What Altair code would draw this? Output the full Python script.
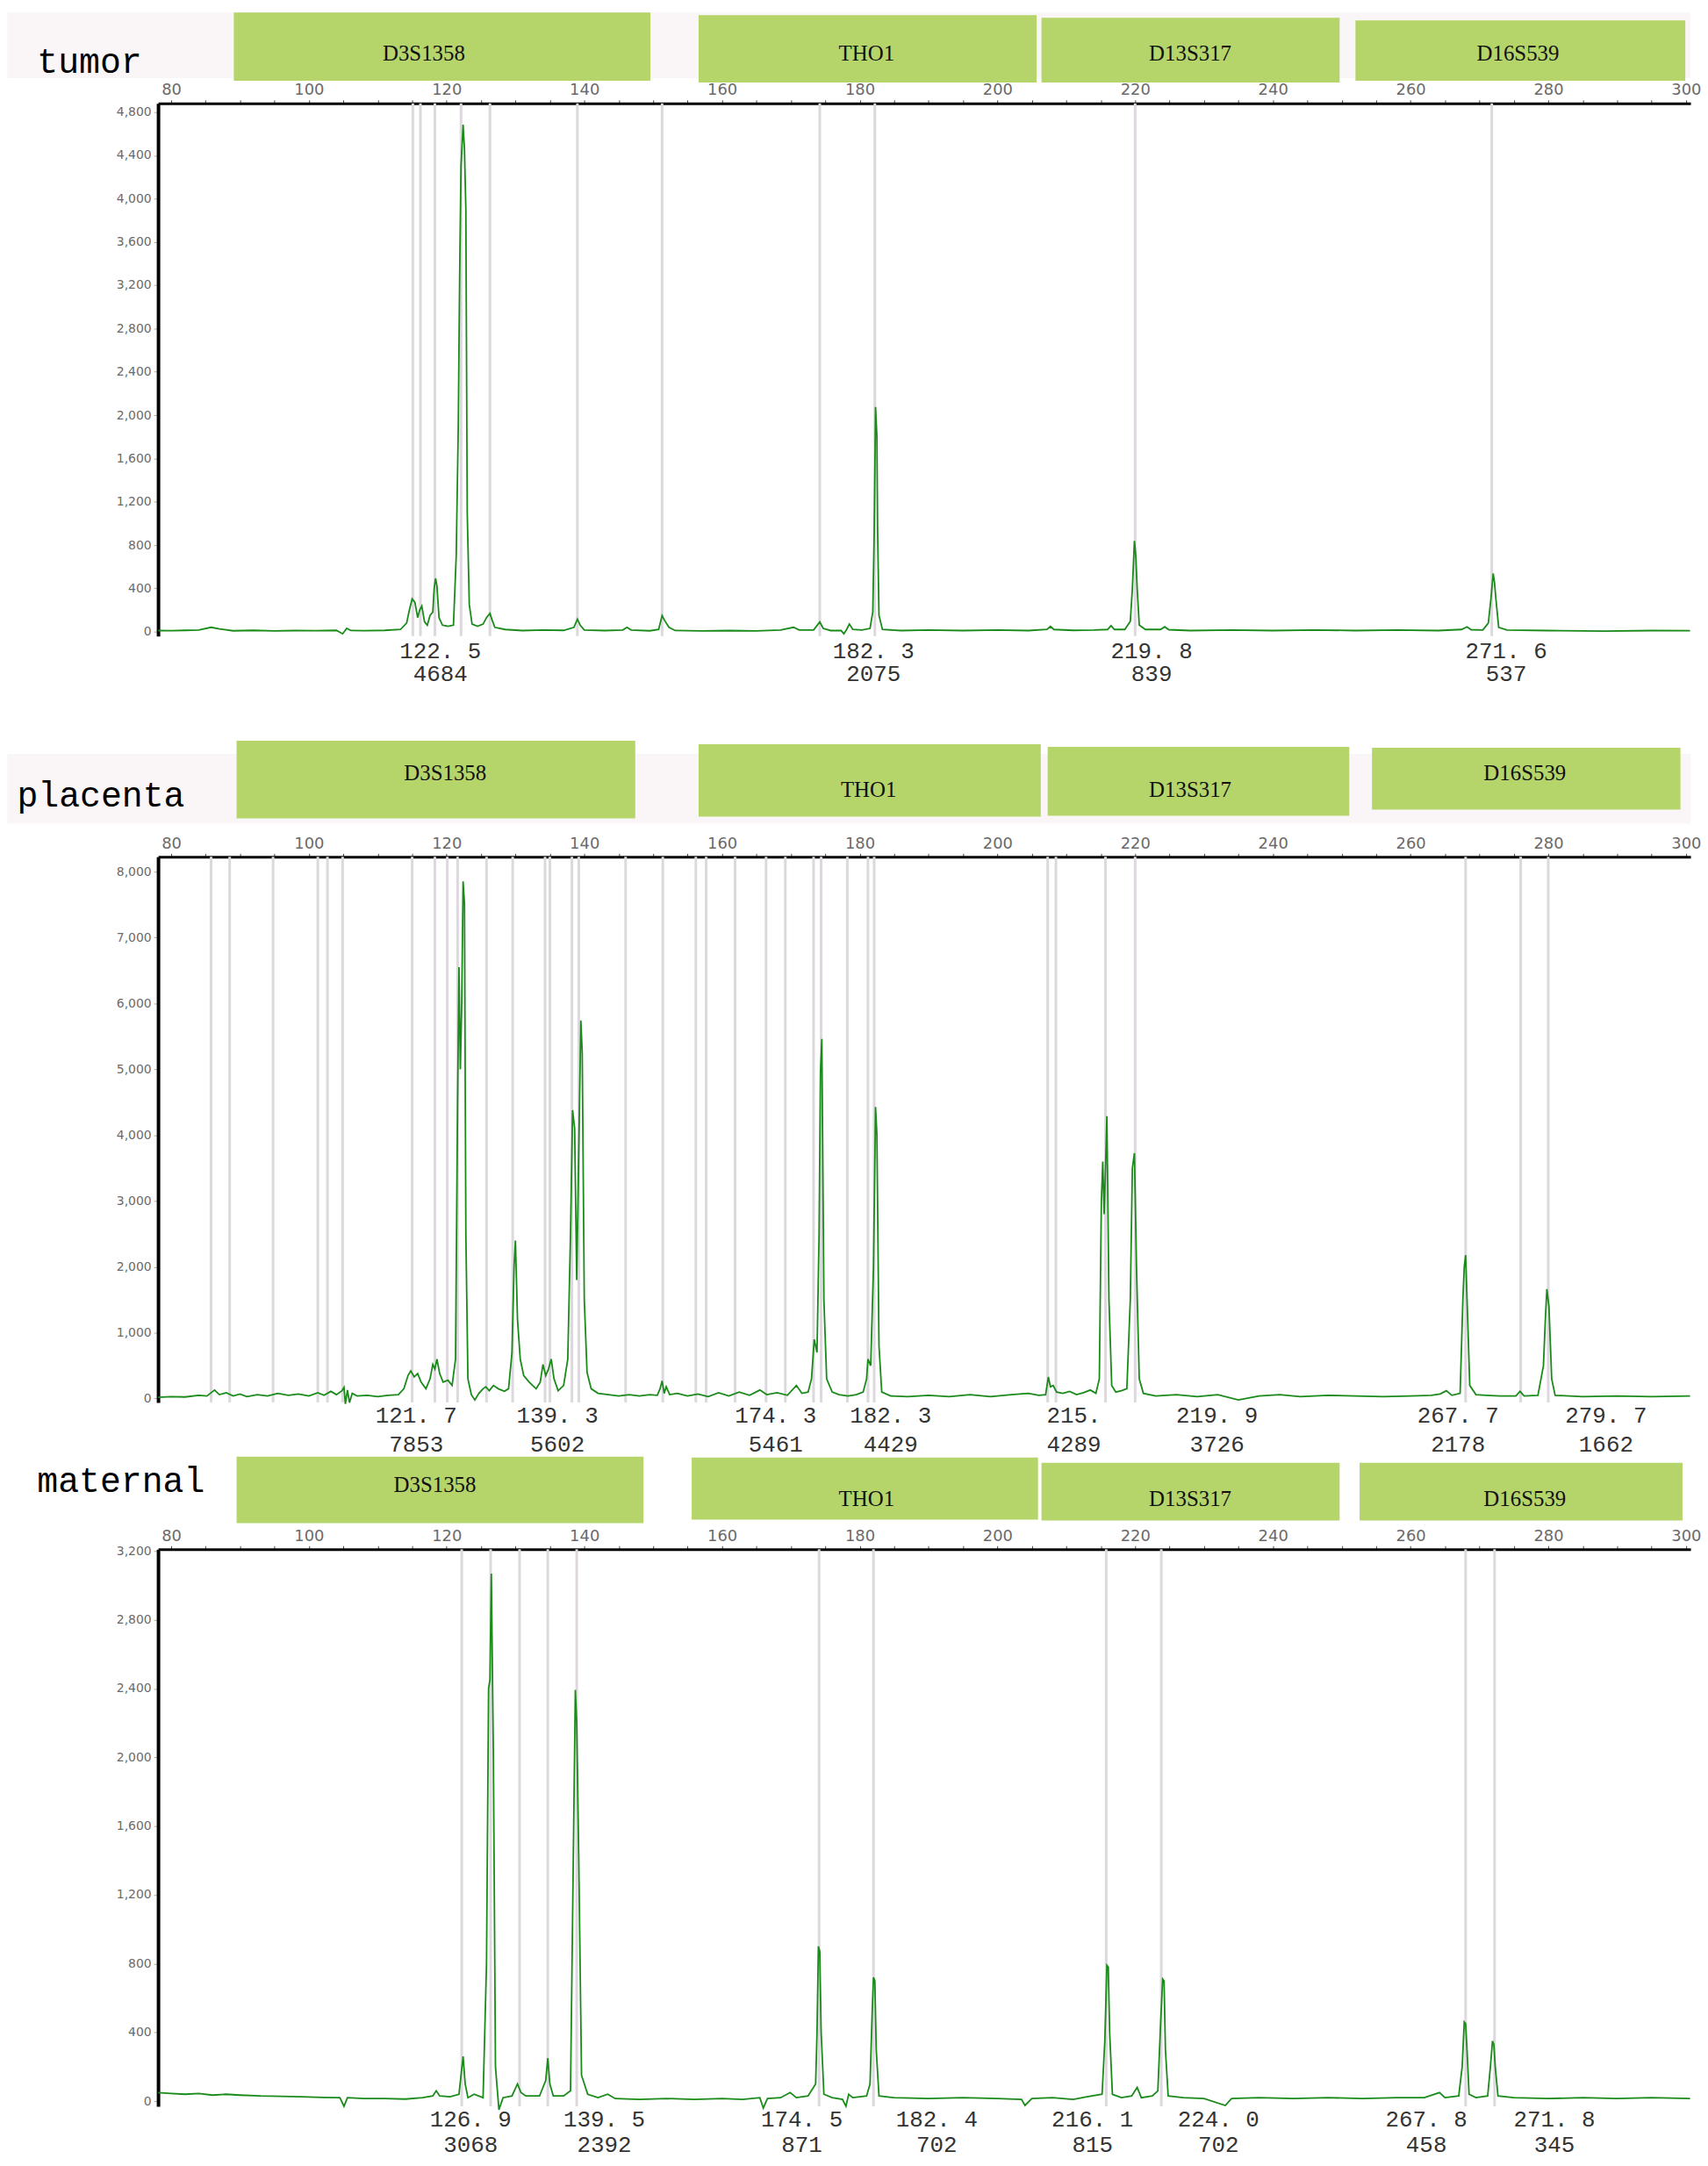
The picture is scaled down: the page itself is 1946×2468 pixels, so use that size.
import altair as alt
import pandas as pd

# ------------------------------------------------------------------ data
loci = ["D3S1358", "THO1", "D13S317", "D16S539"]
samples = ["tumor", "placenta", "maternal"]

# locus boxes (bp extents) and label centres per sample
tumor_box_start = [89.1, 156.6, 206.4, 252.0]
tumor_box_end = [149.6, 205.7, 249.7, 299.9]
tumor_box_text = [116.7, 181.0, 228.0, 275.6]
placenta_box_start = [89.5, 156.6, 207.3, 254.4]
placenta_box_end = [147.4, 206.3, 251.1, 299.2]
placenta_box_text = [119.8, 181.3, 228.0, 276.6]
maternal_box_start = [89.5, 155.6, 206.4, 252.6]
maternal_box_end = [148.6, 205.9, 249.7, 299.5]
maternal_box_text = [118.3, 181.0, 228.0, 276.6]

# bin markers (bp)
tumor_bins = [115.1, 116.2, 118.3, 122.1, 126.3, 139.0, 151.3, 174.2, 182.2, 220.0, 271.8]
placenta_bins = [85.8, 88.5, 94.8, 101.3, 102.7, 104.9, 115.0, 118.3, 120.1, 121.6, 125.8,
                 129.6, 134.3, 135.0, 138.2, 139.2, 146.0, 151.4, 156.2, 157.7, 161.9, 166.4,
                 169.2, 173.3, 174.4, 178.2, 181.2, 182.1, 207.3, 208.5, 215.7, 220.0, 268.0,
                 276.0, 280.0]
maternal_bins = [122.2, 126.4, 130.6, 134.7, 138.9, 174.1, 182.0, 215.8, 223.8, 268.0, 272.2]

# electropherogram traces: [bp, RFU]
tumor_trace = [
    [78.1, 10], [80, 8], [82, 12], [84, 15], [85.8, 40], [87, 25], [89, 8], [92, 12], [95, 6],
    [98, 10], [101, 8], [104, 12], [104.9, -20], [105.5, 30], [106.1, 10], [108, 8], [111, 12],
    [113.3, 20], [114.2, 80], [114.6, 200], [115.0, 304], [115.4, 270], [115.8, 130], [116.1, 200],
    [116.4, 237], [116.8, 90], [117.2, 60], [117.6, 150], [118.0, 180], [118.2, 400], [118.4, 492],
    [118.6, 420], [118.9, 130], [119.4, 60], [120.2, 50], [121.0, 60], [121.4, 700], [121.7, 1900],
    [121.9, 3300], [122.1, 4300], [122.4, 4684], [122.6, 4450], [122.8, 3900], [123.0, 1100],
    [123.3, 250], [123.7, 70], [124.5, 50], [125.3, 70], [125.8, 130], [126.3, 169], [126.6, 110],
    [127.0, 40], [128.5, 20], [131, 10], [134, 15], [137, 12], [138.5, 40], [139.0, 116],
    [139.4, 60], [140.0, 15], [143, 10], [145.6, 15], [146.2, 40], [146.8, 15], [149.5, 8],
    [150.8, 20], [151.3, 148], [151.7, 100], [152.3, 40], [153.2, 10], [157, 6], [161, 10],
    [165, 6], [168.5, 15], [170.4, 40], [171.2, 15], [173.3, 15], [174.2, 89], [174.7, 30],
    [175.8, 10], [177.3, 10], [177.7, -20], [178.1, 20], [178.5, 70], [179.0, 20], [180.3, 15],
    [181.5, 30], [181.9, 180], [182.1, 900], [182.3, 2075], [182.5, 1800], [182.6, 935],
    [182.8, 150], [183.3, 20], [186, 10], [190, 15], [195, 10], [200, 15], [204.5, 10],
    [207.2, 20], [207.7, 48], [208.2, 20], [211, 12], [214, 15], [216.0, 20], [216.5, 56],
    [217.0, 20], [218.5, 20], [219.3, 95], [219.6, 398], [219.9, 839], [220.1, 700], [220.3, 398],
    [220.6, 60], [221.5, 20], [223.7, 20], [224.3, 45], [224.9, 18], [228, 10], [234, 15],
    [240, 10], [246, 15], [252, 10], [258, 15], [264, 10], [267.4, 20], [268.2, 45], [268.8, 18],
    [270.5, 15], [271.3, 80], [271.7, 320], [272.0, 537], [272.2, 450], [272.4, 300], [272.8, 40],
    [274, 15], [280, 10], [288, 5], [295, 10], [300.6, 8],
]
placenta_trace = [
    [78.1, 20], [80, 30], [82, 25], [84, 50], [85.2, 40], [86.3, 130], [87.0, 60], [88.0, 90],
    [89.0, 40], [90.0, 70], [91.0, 30], [92.5, 60], [94.0, 40], [95.5, 80], [97.0, 50], [98.5, 70],
    [100.0, 40], [101.3, 90], [102.2, 50], [103.2, 110], [104.0, 60], [104.8, 120], [105.1, 170],
    [105.3, -80], [105.6, 130], [105.9, -60], [106.3, 80], [107.0, 40], [108.5, 50], [110.0, 30],
    [111.5, 50], [113.0, 60], [113.8, 150], [114.4, 350], [114.8, 420], [115.3, 330], [115.8, 380],
    [116.3, 250], [117.0, 150], [117.6, 300], [118.0, 520], [118.3, 450], [118.6, 600],
    [119.0, 380], [119.5, 250], [120.2, 280], [120.8, 200], [121.3, 600], [121.6, 4500],
    [121.8, 6550], [122.0, 5000], [122.2, 6000], [122.4, 7853], [122.6, 7520], [122.8, 2500],
    [123.1, 300], [123.6, 60], [124.1, -20], [124.7, 80], [125.3, 150], [125.7, 180], [126.2, 120],
    [126.8, 200], [127.5, 150], [128.4, 110], [129.0, 150], [129.5, 700], [129.8, 2000],
    [130.0, 2400], [130.3, 1200], [130.7, 600], [131.2, 350], [132.0, 250], [133.0, 150],
    [133.6, 250], [134.0, 520], [134.4, 350], [134.8, 450], [135.2, 600], [135.6, 300],
    [136.2, 120], [137.0, 200], [137.6, 600], [138.0, 2500], [138.3, 4380], [138.6, 4100],
    [138.9, 1800], [139.2, 3800], [139.5, 5740], [139.7, 5250], [140.0, 1500], [140.4, 400],
    [141.0, 150], [142.0, 80], [143.5, 60], [145.0, 40], [146.5, 60], [148.0, 40], [149.5, 60],
    [150.6, 50], [151.0, 150], [151.3, 270], [151.6, 80], [151.9, 180], [152.4, 60], [153.5, 80],
    [155.0, 40], [156.5, 70], [158.0, 30], [159.5, 90], [161.0, 40], [162.5, 100], [164.0, 50],
    [165.5, 130], [166.5, 60], [168.0, 90], [169.5, 50], [170.8, 200], [171.6, 80], [172.5, 100],
    [173.0, 300], [173.4, 900], [173.8, 700], [174.1, 2500], [174.3, 4950], [174.5, 5461],
    [174.8, 1500], [175.2, 300], [176.0, 100], [177.0, 60], [178.3, 40], [179.5, 60], [180.5, 100],
    [181.0, 300], [181.2, 600], [181.6, 500], [182.0, 2000], [182.3, 4429], [182.5, 4000],
    [182.8, 800], [183.2, 100], [184.5, 40], [187, 30], [190, 50], [193, 30], [196, 60], [199, 30],
    [202, 60], [204.5, 80], [206.0, 50], [207.0, 60], [207.4, 330], [207.7, 180], [208.1, 200],
    [208.6, 100], [209.5, 80], [210.5, 110], [211.5, 60], [212.5, 90], [213.5, 130], [214.3, 80],
    [214.8, 300], [215.1, 3000], [215.3, 3600], [215.5, 2800], [215.7, 3500], [215.9, 4289],
    [216.2, 1500], [216.6, 200], [217.2, 100], [218.0, 120], [218.8, 150], [219.3, 1500],
    [219.6, 3500], [219.9, 3726], [220.2, 2000], [220.6, 300], [221.2, 80], [223.0, 40],
    [226.0, 60], [229.0, 30], [232.0, 60], [235.0, -20], [238.0, 40], [241.0, 60], [244.0, 30],
    [248.0, 50], [252.0, 40], [256.0, 30], [260.0, 40], [263.0, 50], [264.3, 70], [265.2, 120],
    [266.0, 50], [267.2, 80], [267.6, 1500], [267.8, 2000], [268.0, 2178], [268.3, 1200],
    [268.6, 200], [269.5, 60], [271.0, 50], [273.0, 40], [275.3, 40], [275.9, 110], [276.5, 40],
    [278.5, 50], [279.3, 500], [279.6, 1250], [279.8, 1662], [280.1, 1400], [280.5, 300],
    [281.0, 50], [285.0, 30], [290.0, 40], [295.0, 30], [300.6, 40],
]
maternal_trace = [
    [78.1, 50], [80, 45], [82, 40], [84, 45], [86, 35], [88, 40], [90, 35], [93, 30], [96, 28],
    [99, 25], [102, 22], [104.5, 20], [105.1, -30], [105.6, 20], [108, 15], [111, 15], [114, 12],
    [116.5, 20], [118.0, 30], [118.5, 60], [119.0, 30], [120.5, 25], [121.8, 40], [122.1, 150],
    [122.4, 260], [122.7, 100], [123.1, 20], [124.0, 40], [125.3, 20], [125.8, 800], [126.1, 2400],
    [126.3, 2450], [126.5, 3068], [126.8, 2000], [127.1, 200], [127.6, -50], [128.2, 20],
    [129.5, 30], [130.3, 100], [130.8, 50], [131.5, 30], [133.5, 30], [134.4, 120], [134.7, 250],
    [135.0, 100], [135.5, 30], [137.0, 30], [138.0, 60], [138.4, 1400], [138.7, 2392],
    [138.9, 2200], [139.2, 1400], [139.6, 150], [140.5, 40], [142.0, 20], [143.4, 40],
    [144.5, 15], [148, 10], [152, 15], [156, 10], [160, 15], [163, 10], [165.5, 20], [166.0, -40],
    [166.6, 15], [168.5, 20], [169.9, 50], [170.8, 20], [172.5, 30], [173.6, 100], [173.8, 400],
    [174.0, 900], [174.2, 870], [174.4, 400], [174.8, 40], [176.0, 20], [177.5, 10], [178.0, -30],
    [178.4, 40], [179.0, 20], [181.0, 30], [181.5, 100], [181.8, 500], [182.0, 720], [182.2, 700],
    [182.4, 300], [182.8, 30], [185, 20], [190, 15], [195, 20], [200, 15], [203.5, 10],
    [204.0, -25], [205, 15], [208, 20], [211, 10], [213, 25], [215.2, 40], [215.6, 350],
    [215.9, 790], [216.1, 780], [216.3, 400], [216.7, 40], [218.0, 20], [219.5, 30], [220.3, 80],
    [220.9, 20], [222.5, 30], [223.3, 60], [223.7, 450], [224.0, 710], [224.2, 700], [224.4, 300],
    [224.8, 30], [227, 20], [230, 15], [233.1, -25], [234, 15], [238, 20], [243, 15], [248, 20],
    [253, 15], [258, 20], [262, 20], [264.2, 50], [265.0, 20], [267.0, 30], [267.5, 200],
    [267.8, 460], [268.0, 450], [268.2, 300], [268.5, 40], [269.5, 20], [271.2, 30], [271.6, 200],
    [271.9, 350], [272.1, 330], [272.3, 200], [272.7, 30], [275, 20], [280, 15], [285, 20],
    [290, 15], [295, 20], [300.6, 15],
]

# allele call labels (size / height) and their centres (bp)
tumor_call_pos = [119.1, 182.0, 222.4, 273.9]
tumor_call_size = ["122. 5", "182. 3", "219. 8", "271. 6"]
tumor_call_height = ["4684", "2075", "839", "537"]
placenta_call_pos = [115.6, 136.1, 167.8, 184.5, 211.1, 231.9, 266.9, 288.4]
placenta_call_size = ["121. 7", "139. 3", "174. 3", "182. 3", "215.", "219. 9", "267. 7", "279. 7"]
placenta_call_height = ["7853", "5602", "5461", "4429", "4289", "3726", "2178", "1662"]
maternal_call_pos = [123.5, 142.9, 171.6, 191.2, 213.8, 232.1, 262.3, 280.9]
maternal_call_size = ["126. 9", "139. 5", "174. 5", "182. 4", "216. 1", "224. 0", "267. 8", "271. 8"]
maternal_call_height = ["3068", "2392", "871", "702", "815", "702", "458", "345"]

# ------------------------------------------------------------------ layout / style
W = 1755
XDOM = [78.1, 300.66]
BAND_LEFT = 56.2
GREEN = "#1a8a1a"
BOX = "#b5d56b"
BAND = "#faf6f8"
BIN = "#ddd7de"
MONO = "Liberation Mono"
AXFONT = "DejaVu Sans"

x_ticks = list(range(80, 301, 5))


def header(name, starts, ends, texts, tops, bots, text_y, title_x, title_y, H, band=None):
    df = pd.DataFrame({"locus": loci, "start": starts, "end": ends, "tx": texts,
                       "top": tops, "bot": bots, "ty": text_y})
    xs = alt.Scale(domain=XDOM, nice=False, zero=False)
    ys = alt.Scale(domain=[0, H], nice=False, zero=False, reverse=True)
    yaxis = alt.Axis(title=name, titleAngle=0, titleX=title_x, titleY=title_y,
                     titleAlign="left", titleBaseline="middle", titleFont=MONO,
                     titleFontSize=40, titleFontWeight="normal", titleColor="#000",
                     labels=False, ticks=False, domain=False, grid=False, zindex=2)
    layers = []
    if band is not None:
        bdf = pd.DataFrame({"start": [BAND_LEFT], "end": [XDOM[1]],
                            "top": [band[0]], "bot": [band[1]]})
        layers.append(
            alt.Chart(bdf).mark_rect(color=BAND).encode(
                x=alt.X("start:Q", scale=xs, axis=None), x2="end:Q",
                y=alt.Y("top:Q", scale=ys, axis=yaxis), y2="bot:Q")
        )
    boxes = alt.Chart(df).mark_rect(color=BOX).encode(
        x=alt.X("start:Q", scale=xs, axis=None), x2="end:Q",
        y=alt.Y("top:Q", scale=ys, axis=yaxis), y2="bot:Q")
    labels = alt.Chart(df).mark_text(font="Liberation Serif", fontSize=25, color="#111",
                                     baseline="middle", align="center").encode(
        x=alt.X("tx:Q", scale=xs, axis=None), y=alt.Y("ty:Q", scale=ys, axis=yaxis),
        text="locus:N")
    layers += [boxes, labels]
    return alt.layer(*layers).properties(width=W, height=H)


def panel(trace, bins, call_pos, call_size, call_height, ydom, ystep, H, dy1, dy2):
    tr = pd.DataFrame(trace, columns=["bp", "rfu"])
    tr["i"] = range(len(tr))
    calls = pd.DataFrame({"bp": call_pos, "size": call_size, "height": call_height})
    xs = alt.Scale(domain=XDOM, nice=False, zero=False)
    ys = alt.Scale(domain=ydom, nice=False, zero=False)
    xaxis = alt.Axis(orient="top", values=x_ticks,
                     labelExpr="datum.value % 20 == 0 ? datum.label : ''",
                     domainColor="#000", domainWidth=3, tickColor="#444", tickSize=4,
                     tickWidth=1, labelColor="#6a6a6a", labelFont=AXFONT,
                     labelFontSize=18, labelPadding=2, grid=False, title=None)
    yaxis = alt.Axis(values=list(range(0, int(ydom[1]) + 1, ystep)), format=",d",
                     domainColor="#000", domainWidth=4, tickColor="#aaa", tickSize=5,
                     labelColor="#6a6a6a", labelFont=AXFONT, labelFontSize=14,
                     labelPadding=3, grid=False, title=None)
    X = alt.X("bp:Q", scale=xs, axis=xaxis)
    rules = alt.Chart(pd.DataFrame({"bp": bins})).mark_rule(color=BIN, strokeWidth=3).encode(x=X)
    line = alt.Chart(tr).mark_line(color=GREEN, strokeWidth=1.8, strokeJoin="miter").encode(
        x=X, y=alt.Y("rfu:Q", scale=ys, axis=yaxis), order="i:Q")
    t1 = alt.Chart(calls).mark_text(font=MONO, fontSize=26, color="#333", dy=dy1,
                                    baseline="middle").encode(
        x=X, y=alt.datum(0), text="size:N")
    t2 = alt.Chart(calls).mark_text(font=MONO, fontSize=26, color="#333", dy=dy2,
                                    baseline="middle").encode(
        x=X, y=alt.datum(0), text="height:N")
    return alt.layer(rules, line, t1, t2).properties(width=W, height=H)


h1 = header("tumor", tumor_box_start, tumor_box_end, tumor_box_text,
            [0, 3, 6, 9], [78, 80, 80, 78], [47, 47, 47, 47], -139, 57, 80, band=(0, 75))
p1 = panel(tumor_trace, tumor_bins, tumor_call_pos, tumor_call_size, tumor_call_height,
           [-40, 4880], 200, 610, 22, 49)
h2 = header("placenta", placenta_box_start, placenta_box_end, placenta_box_text,
            [62, 66, 69, 70], [151, 149, 148, 141], [99, 118, 118, 99], -162, 125, 171,
            band=(77, 157))
p2 = panel(placenta_trace, placenta_bins, placenta_call_pos, placenta_call_size,
           placenta_call_height, [-60, 8225], 500, 625, 20, 53)
h3 = header("maternal", maternal_box_start, maternal_box_end, maternal_box_text,
            [0, 1, 7, 7], [76, 72, 73, 73], [32, 48, 48, 48], -139, 28, 82)
p3 = panel(maternal_trace, maternal_bins, maternal_call_pos, maternal_call_size,
           maternal_call_height, [-30, 3210], 200, 638, 21, 50)

chart = alt.vconcat(h1, p1, h2, p2, h3, p3, spacing=0).resolve_scale(
    x="independent", y="independent"
).properties(
    padding={"left": 0, "top": 0, "right": 0, "bottom": 0}, background="white"
).configure_view(stroke=None)

chart.save("out.html", embed_options={"renderer": "svg", "actions": False})
